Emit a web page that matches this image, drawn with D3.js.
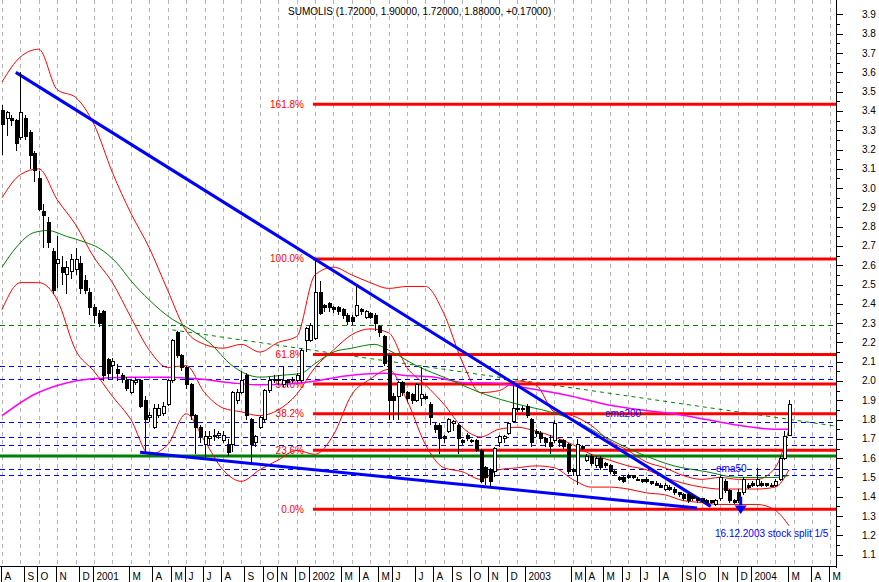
<!DOCTYPE html>
<html><head><meta charset="utf-8">
<script src="https://cdn.jsdelivr.net/npm/d3@7"></script>
<style>
body{margin:0;background:#fff}
svg{display:block;font-family:"Liberation Sans",Arial,sans-serif}
</style>
</head><body>
<svg id="chart" width="879" height="582"></svg>
<script>
// ---------- DATA ----------
const titleText = "SUMOLIS (1.72000, 1.90000, 1.72000, 1.88000, +0.17000)";
const yTicks = [1.1,1.2,1.3,1.4,1.5,1.6,1.7,1.8,1.9,2.0,2.1,2.2,2.3,2.4,2.5,2.6,2.7,2.8,2.9,3.0,3.1,3.2,3.3,3.4,3.5,3.6,3.7,3.8,3.9];
const monthLabels = ["A","S","O","N","D","2001","M","A","M","J","J","A","S","O","N","D","2002","M","A","M","J","J","A","S","O","N","D","2003","M","A","M","J","J","A","S","O","N","D","2004","M","A","M"];
const monthBars   = [0,5,8,12,17,20,28,33,37,40,44,48,53,57,60,64,67,74,78,82,85,90,94,98,102,106,110,114,124,127,131,135,139,143,148,151,156,160,163,171,176,180];

const opens = [3.40,3.36,3.36,3.35,3.26,3.36,3.29,3.18,3.05,2.88,2.82,2.67,2.61,2.59,2.55,2.57,2.58,2.61,2.52,2.46,
2.38,2.35,2.36,2.11,2.08,2.06,2.03,2.00,1.94,1.99,2.00,1.90,1.81,1.76,1.82,1.83,1.88,2.00,2.25,2.13,
2.07,1.98,1.82,1.76,1.67,1.70,1.71,1.72,1.69,1.67,1.67,1.90,1.94,2.03,1.80,1.68,1.76,1.80,1.95,2.01,
2.00,1.98,2.00,2.00,2.00,2.00,2.21,2.21,2.22,2.46,2.39,2.40,2.38,2.38,2.37,2.34,2.33,2.34,2.37,2.33,
2.35,2.34,2.28,2.23,2.13,1.92,1.92,1.99,1.94,1.93,1.90,1.91,1.92,1.88,1.77,1.77,1.71,1.74,1.78,1.77,
1.69,1.72,1.69,1.69,1.64,1.55,1.54,1.53,1.68,1.70,1.73,1.79,1.86,1.86,1.87,1.80,1.74,1.73,1.70,1.68,
1.69,1.69,1.69,1.67,1.54,1.51,1.66,1.59,1.61,1.56,1.60,1.57,1.56,1.53,1.50,1.50,1.51,1.51,1.49,1.49,
1.49,1.48,1.47,1.46,1.44,1.45,1.44,1.42,1.41,1.41,1.40,1.39,1.39,1.38,1.38,1.36,1.39,1.48,1.43,1.38,
1.42,1.42,1.46,1.47,1.46,1.47,1.47,1.46,1.46,1.49,1.60,1.72];
const highs = [3.43,3.40,3.38,3.36,3.60,3.38,3.30,3.19,3.09,2.92,2.85,2.69,2.75,2.65,2.62,2.66,2.69,2.65,2.55,2.48,
2.40,2.37,2.37,2.12,2.12,2.09,2.04,2.02,2.01,2.02,2.01,1.92,1.84,1.88,1.88,1.89,2.01,2.22,2.26,2.14,
2.08,1.99,1.83,1.77,1.74,1.74,1.75,1.74,1.74,1.70,1.95,1.96,2.05,2.04,1.81,1.72,1.82,1.96,2.02,2.03,
2.03,2.08,2.01,2.02,2.04,2.17,2.28,2.30,2.63,2.52,2.40,2.41,2.39,2.39,2.38,2.35,2.34,2.49,2.38,2.37,
2.36,2.35,2.29,2.24,2.14,1.94,2.00,2.00,1.95,1.94,1.99,2.07,1.93,1.89,1.78,1.78,1.72,1.81,1.80,1.78,
1.70,1.73,1.70,1.70,1.65,1.56,1.55,1.66,1.72,1.72,1.79,2.00,1.98,1.87,1.88,1.81,1.75,1.74,1.71,1.72,
1.80,1.70,1.70,1.68,1.55,1.70,1.67,1.62,1.62,1.61,1.61,1.58,1.57,1.54,1.51,1.51,1.52,1.51,1.50,1.49,
1.50,1.48,1.48,1.47,1.47,1.46,1.45,1.42,1.42,1.42,1.41,1.39,1.39,1.39,1.38,1.39,1.51,1.49,1.44,1.39,
1.44,1.50,1.47,1.48,1.55,1.48,1.47,1.47,1.49,1.61,1.74,1.90];
const lows = [3.17,3.27,3.32,3.19,3.25,3.25,3.10,3.03,2.88,2.69,2.69,2.45,2.48,2.50,2.45,2.53,2.55,2.45,2.45,2.34,
2.30,2.28,2.00,2.01,2.01,2.00,1.99,1.95,1.93,1.98,1.86,1.63,1.79,1.75,1.81,1.82,1.87,1.99,2.12,2.05,
1.96,1.80,1.62,1.68,1.60,1.67,1.69,1.70,1.68,1.61,1.63,1.88,1.93,1.80,1.57,1.66,1.75,1.79,1.94,1.99,
1.98,1.97,1.97,1.99,1.99,1.99,2.15,2.20,2.21,2.34,2.36,2.36,2.35,2.34,2.32,2.29,2.29,2.33,2.34,2.32,
2.32,2.26,2.23,2.08,1.80,1.80,1.80,1.92,1.89,1.88,1.89,1.87,1.90,1.77,1.73,1.62,1.68,1.73,1.74,1.62,
1.67,1.69,1.68,1.63,1.47,1.46,1.45,1.50,1.66,1.68,1.72,1.78,1.84,1.84,1.81,1.66,1.71,1.68,1.66,1.62,
1.68,1.66,1.65,1.52,1.51,1.46,1.64,1.58,1.56,1.55,1.54,1.55,1.52,1.51,1.48,1.47,1.49,1.49,1.48,1.47,
1.47,1.46,1.46,1.45,1.43,1.43,1.41,1.40,1.38,1.37,1.38,1.37,1.37,1.36,1.36,1.35,1.38,1.42,1.37,1.36,
1.37,1.41,1.44,1.45,1.45,1.45,1.45,1.45,1.45,1.48,1.59,1.72];
const closes = [3.33,3.39,3.35,3.23,3.39,3.27,3.17,3.09,2.89,2.86,2.72,2.47,2.63,2.56,2.59,2.63,2.63,2.48,2.47,2.38,
2.34,2.30,2.03,2.04,2.10,2.04,2.01,1.96,2.00,2.00,1.87,1.80,1.82,1.86,1.86,1.87,2.00,2.21,2.13,2.07,
1.98,1.82,1.76,1.71,1.71,1.71,1.72,1.73,1.72,1.63,1.94,1.94,2.00,1.82,1.67,1.71,1.81,1.95,2.00,2.00,
2.01,2.00,1.99,2.01,2.03,2.16,2.27,2.29,2.46,2.35,2.38,2.38,2.37,2.36,2.34,2.31,2.31,2.39,2.36,2.36,
2.33,2.30,2.25,2.09,1.90,1.90,1.99,1.94,1.91,1.90,1.98,1.93,1.91,1.81,1.75,1.70,1.70,1.80,1.79,1.70,
1.68,1.70,1.69,1.64,1.48,1.50,1.48,1.65,1.71,1.71,1.78,1.86,1.85,1.86,1.82,1.68,1.73,1.70,1.68,1.66,
1.78,1.68,1.66,1.53,1.53,1.67,1.65,1.61,1.57,1.60,1.55,1.56,1.53,1.52,1.49,1.48,1.50,1.50,1.49,1.48,
1.48,1.47,1.46,1.45,1.46,1.44,1.42,1.41,1.39,1.38,1.39,1.38,1.38,1.37,1.37,1.38,1.50,1.43,1.38,1.37,
1.38,1.49,1.45,1.46,1.49,1.46,1.46,1.46,1.48,1.60,1.71,1.88];

const bandBars  = [0,4,8,12,16,20,24,28,32,36,40,44,48,52,56,60,64,68,72,76,80,84,88,92,96,100,104,108,112,116,120,124,128,132,136,140,144,148,152,156,160,164,168,171];
const bandUpper = [3.55,3.68,3.72,3.51,3.47,3.33,3.08,2.87,2.69,2.47,2.26,2.19,2.17,2.19,2.15,2.20,2.23,2.55,2.59,2.55,2.51,2.48,2.49,2.49,2.35,2.10,1.94,1.95,2.00,1.98,1.84,1.82,1.77,1.69,1.64,1.58,1.55,1.51,1.49,1.50,1.49,1.49,1.55,1.75];
const bandMid   = [2.95,3.07,3.10,2.94,2.81,2.64,2.51,2.33,2.16,2.07,2.08,1.94,1.86,1.84,1.82,1.85,1.93,2.07,2.16,2.24,2.27,2.25,2.07,1.98,1.88,1.76,1.71,1.75,1.76,1.74,1.71,1.67,1.62,1.59,1.56,1.54,1.50,1.47,1.45,1.44,1.44,1.44,1.45,1.54];
const bandLower = [2.37,2.51,2.51,2.42,2.16,2.05,1.92,1.80,1.62,1.67,1.83,1.69,1.54,1.48,1.54,1.59,1.64,1.62,1.72,1.93,2.01,2.06,1.90,1.67,1.55,1.53,1.49,1.54,1.55,1.56,1.55,1.49,1.45,1.45,1.44,1.42,1.41,1.38,1.37,1.36,1.36,1.36,1.33,1.25];

const ema200Bars = [0,7,14,19,28,36,43,50,56,65,76,83,87,94,101,106,115,124,131,139,146,153,160,168,171];
const ema200Vals = [1.82,1.93,1.99,2.01,2.02,2.02,2.01,1.99,1.98,1.99,2.03,2.04,2.03,2.02,1.99,1.99,1.96,1.92,1.88,1.85,1.83,1.80,1.77,1.75,1.75];
const ema50Bars = [0,3,7,10,14,18,21,25,28,32,37,40,45,50,56,61,65,68,72,76,81,84,90,97,105,112,119,124,131,139,146,153,160,168,171];
const ema50Vals = [2.59,2.69,2.77,2.78,2.75,2.72,2.69,2.61,2.52,2.42,2.32,2.28,2.20,2.08,2.02,2.03,2.04,2.09,2.15,2.17,2.19,2.16,2.08,2.01,1.93,1.88,1.84,1.80,1.71,1.62,1.56,1.53,1.50,1.50,1.51];

const fibLow = 1.335, fibHigh = 2.633, fibStartBar = 68;
const fibRatios = [0, 0.236, 0.382, 0.5, 0.618, 1.0, 1.618];
const fibLabels = ["0.0%","23.6%","38.2%","50.0%","61.8%","100.0%","161.8%"];
const blueLevels = [2.080, 2.010, 1.789, 1.708, 1.668, 1.546, 1.515];
const greenLevel = 1.611;
const greenDashLevel = 2.290;
const downTrend = [[3, 3.60],[154, 1.35]];
const lowerTrend = [[30, 1.63],[151, 1.342]];
const greenSlope = [[37, 2.265],[181.5, 1.765]];
const splitBar = 160.5;

// ---------- CHART ----------
const svg = d3.select("#chart");
const W = 879, H = 582, plotRight = 836, plotBottom = 566;
const x = d3.scaleLinear().domain([0, 171]).range([2, 789]);
const y = d3.scaleLinear().domain([1.1, 3.9]).range([554.6, 14.5]);
const maxBar = x.invert(plotRight);

// vertical grid every 4 bars
const g0 = svg.append("g");
d3.range(0, maxBar, 4).forEach(b => {
  g0.append("line").attr("x1", Math.round(x(b))+0.5).attr("x2", Math.round(x(b))+0.5)
    .attr("y1", 0).attr("y2", plotBottom)
    .attr("stroke", "#b4b4b4").attr("stroke-dasharray", "4,4");
});

// horizontal dashed levels
blueLevels.forEach(v => {
  svg.append("line").attr("x1", 0).attr("x2", plotRight).attr("y1", Math.round(y(v))+0.5).attr("y2", Math.round(y(v))+0.5)
    .attr("stroke", "#0000ff").attr("stroke-dasharray", "5,4");
});
svg.append("line").attr("x1", 0).attr("x2", plotRight).attr("y1", Math.round(y(greenDashLevel))+0.5).attr("y2", Math.round(y(greenDashLevel))+0.5)
  .attr("stroke", "#008000").attr("stroke-dasharray", "5,4");
svg.append("line").attr("x1", x(greenSlope[0][0])).attr("x2", x(greenSlope[1][0]))
  .attr("y1", y(greenSlope[0][1])).attr("y2", y(greenSlope[1][1]))
  .attr("stroke", "#008000").attr("stroke-dasharray", "4,4");

// green support line
svg.append("line").attr("x1", 0).attr("x2", plotRight).attr("y1", y(greenLevel)).attr("y2", y(greenLevel))
  .attr("stroke", "#008000").attr("stroke-width", 3);

// fibonacci
fibRatios.forEach((r, i) => {
  const v = fibLow + r * (fibHigh - fibLow);
  svg.append("line").attr("x1", x(fibStartBar) - 2).attr("x2", plotRight).attr("y1", y(v)).attr("y2", y(v))
    .attr("stroke", "#ff0000").attr("stroke-width", 3);
  svg.append("text").attr("x", x(fibStartBar) - 11).attr("y", y(v) + 3.5)
    .attr("text-anchor", "end").attr("font-size", 10).attr("fill", "#ff0000").text(fibLabels[i]);
});

// curves
const curve = (bars, vals, color, w) => {
  const pts = bars.map((b, i) => [b, vals[i]]);
  svg.append("path").datum(pts)
    .attr("d", d3.line().x(d => x(d[0])).y(d => y(d[1])).curve(d3.curveMonotoneX))
    .attr("fill", "none").attr("stroke", color).attr("stroke-width", w);
};
curve(bandBars, bandUpper, "#ff0000", 1);
curve(bandBars, bandMid, "#ff0000", 1);
curve(bandBars, bandLower, "#ff0000", 1);
curve(ema200Bars, ema200Vals, "#ff00ff", 1.5);
curve(ema50Bars, ema50Vals, "#008000", 1);

// trend lines
[downTrend, lowerTrend].forEach(t => {
  svg.append("line").attr("x1", x(t[0][0])).attr("y1", y(t[0][1])).attr("x2", x(t[1][0])).attr("y2", y(t[1][1]))
    .attr("stroke", "#0000ff").attr("stroke-width", 3);
});

// candles
const cg = svg.append("g").attr("shape-rendering", "crispEdges");
opens.forEach((o, i) => {
  const c = closes[i], cx = Math.round(x(i)) + 0.5;
  cg.append("line").attr("x1", cx).attr("x2", cx).attr("y1", y(highs[i])).attr("y2", y(lows[i])).attr("stroke", "#000");
  const top = y(Math.max(o, c)), bot = y(Math.min(o, c));
  cg.append("rect").attr("x", cx - 1.5).attr("y", top).attr("width", 3).attr("height", Math.max(1, bot - top))
    .attr("fill", c >= o ? "#fff" : "#000").attr("stroke", "#000");
});

// split arrow
const ax = x(splitBar);
svg.append("line").attr("x1", ax).attr("x2", ax).attr("y1", y(1.40)).attr("y2", y(1.355)).attr("stroke", "#0000ff").attr("stroke-width", 3);
svg.append("path").attr("d", `M${ax-6},${y(1.355)} L${ax+6},${y(1.355)} L${ax},${y(1.31)} Z`).attr("fill", "#0000ff");

// annotations
svg.append("text").attr("x", 605).attr("y", 417).attr("font-size", 10).attr("fill", "#0000ff").text("ema200");
svg.append("text").attr("x", 716).attr("y", 472).attr("font-size", 10).attr("fill", "#0000ff").text("ema50");
svg.append("text").attr("x", 715).attr("y", 537).attr("font-size", 10).attr("fill", "#0000ff").text("16.12.2003 stock split 1/5");
svg.append("text").attr("x", 288).attr("y", 15).attr("font-size", 10).attr("fill", "#000").text(titleText);

// axes
svg.append("line").attr("x1", 0).attr("x2", plotRight).attr("y1", plotBottom + 0.5).attr("y2", plotBottom + 0.5).attr("stroke", "#000");
svg.append("line").attr("x1", plotRight + 0.5).attr("x2", plotRight + 0.5).attr("y1", 0).attr("y2", plotBottom + 2).attr("stroke", "#000");
d3.range(1.1, 3.95, 0.05).forEach((v, i) => {
  const yy = Math.round(y(v)) + 0.5;
  svg.append("line").attr("x1", plotRight).attr("x2", plotRight + (i % 2 === 0 ? 7 : 4)).attr("y1", yy).attr("y2", yy).attr("stroke", "#000");
});
yTicks.forEach(v => {
  svg.append("text").attr("x", 862).attr("y", y(v) + 3.5).attr("font-size", 10).attr("fill", "#000").text(v.toFixed(1));
});
monthBars.forEach((b, i) => {
  const tx = Math.round(x(b) - 1.5) + 0.5;
  svg.append("line").attr("x1", tx).attr("x2", tx).attr("y1", plotBottom).attr("y2", H).attr("stroke", "#000");
  svg.append("text").attr("x", tx + 3).attr("y", 580).attr("font-size", 10).attr("fill", "#000").text(monthLabels[i]);
});
</script>
</body></html>
